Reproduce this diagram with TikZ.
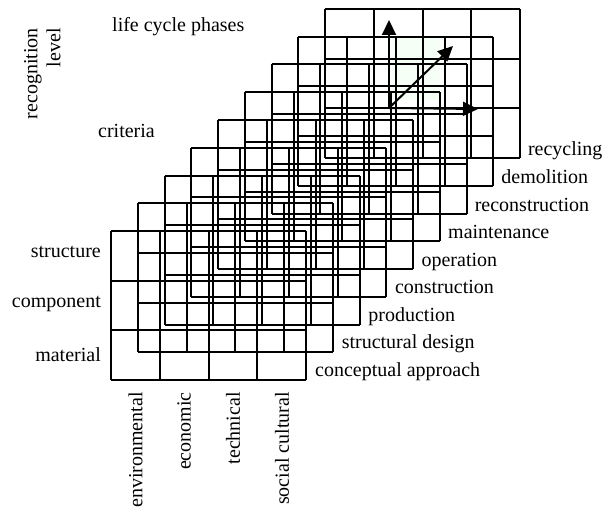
\documentclass[tikz,border=0pt]{standalone}
\usepackage{fontspec}
\setmainfont{Liberation Serif}
\usetikzlibrary{arrows.meta}
\begin{document}
\begin{tikzpicture}[x=1pt,y=-1pt,
  gridline/.style={line width=2pt,black},
  lbl/.style={font=\fontsize{20}{23}\selectfont, inner sep=0pt},
  axisarrow/.style={line width=2pt,-{Triangle[length=15pt,width=14pt]}}]
\useasboundingbox (0,0) rectangle (605,508);
\fill[green!4] (391,36) rectangle (440,100);
\foreach \k in {0,...,8} {
  \pgfmathsetmacro\xo{111+26.75*\k}
  \pgfmathsetmacro\yo{231-27.75*\k}
  \foreach \j in {0,...,4} \draw[gridline] ({\xo+48.75*\j},\yo) -- ++(0,149);
  \foreach \i in {0,...,3} \draw[gridline] (\xo,{\yo+49.67*\i}) -- ++(195,0);
}
\foreach \k/\t in {0/conceptual approach,1/structural design,2/production,3/construction,4/operation,5/maintenance,6/reconstruction,7/demolition,8/recycling}
  \node[lbl,anchor=base west] (phase\k) at ({315+26.6*\k},{376-27.5*\k}) {\t};
\node[lbl,anchor=base east] (structure) at (101,257) {structure};
\node[lbl,anchor=base east] (component) at (101,307) {component};
\node[lbl,anchor=base east] (material) at (101,361) {material};
\node[lbl,anchor=base west] (criteria) at (98,138) {criteria};
\node[lbl,anchor=base west] (lcp) at (112,32) {life cycle phases};
\node[lbl,rotate=90,align=right,anchor=north east] (recog) at (24,28) {recognition\\level};
\node[lbl,rotate=90,anchor=east] (env) at (135.5,392) {environmental};
\node[lbl,rotate=90,anchor=east] (eco) at (184,392) {economic};
\node[lbl,rotate=90,anchor=east] (tech) at (233,392) {technical};
\node[lbl,rotate=90,anchor=east] (soc) at (282,392) {social cultural};
\coordinate (o) at (389,108);
\coordinate (up) at (389,20);
\coordinate (rt) at (478,109);
\coordinate (dg) at (453,46);
\draw[axisarrow] (o) -- (up);
\draw[axisarrow] (o) -- (rt);
\draw[axisarrow] (o) -- (dg);
\end{tikzpicture}
\end{document}
